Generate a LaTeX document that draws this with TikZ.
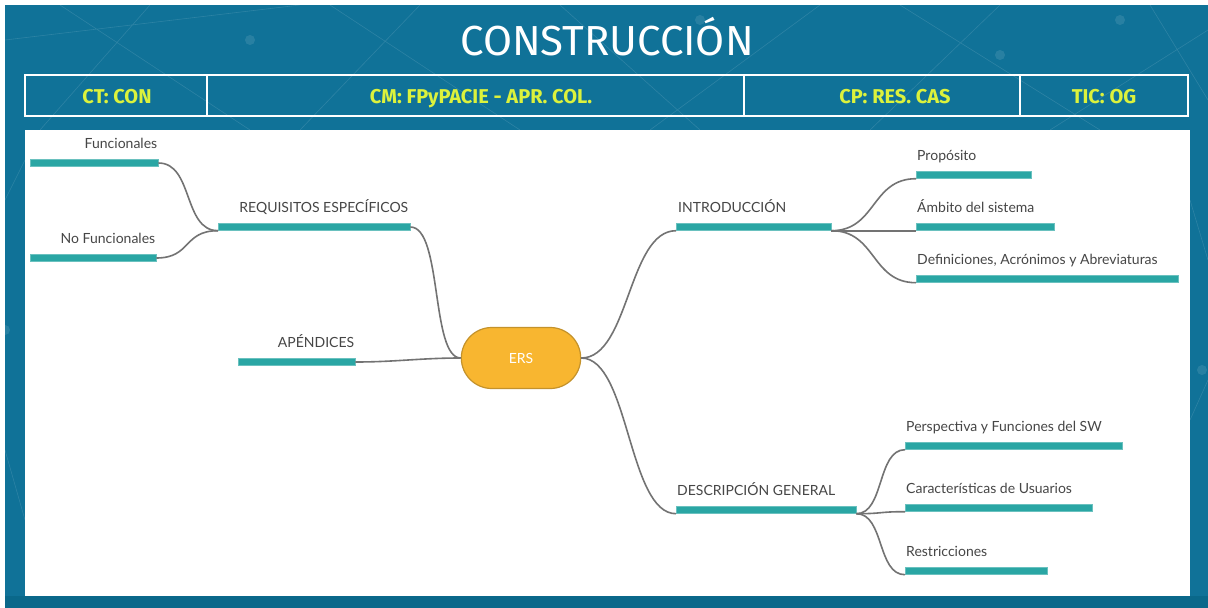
\documentclass[tikz,border=0pt]{standalone}
\usepackage{fontspec}
\setmainfont{Lato}
\newfontfamily\headfont{Fira Sans}
\usetikzlibrary{shapes.misc}
\definecolor{bgblue}{RGB}{16,114,152}
\definecolor{bgdark}{RGB}{10,104,138}
\definecolor{teal}{RGB}{42,166,164}
\definecolor{lime}{RGB}{220,242,60}
\definecolor{conncol}{RGB}{115,115,115}
\definecolor{txt}{RGB}{70,70,70}
\definecolor{ersfill}{RGB}{248,182,48}
\definecolor{ersline}{RGB}{196,146,43}
\tikzset{
  bar/.style={rectangle, fill=teal, draw=teal!70!white, line width=0.4pt, minimum height=7pt, inner sep=0pt, anchor=west},
  lbl/.style={text=txt, font=\fontsize{14}{16}\selectfont, inner sep=0pt},
  conn/.style={draw=conncol, line width=1.6pt},
  headtxt/.style={text=lime, font=\headfont\bfseries\fontsize{20}{22}\selectfont, inner sep=0pt, anchor=base},
  netline/.style={draw=white, opacity=0.12, line width=0.6pt}
}
\begin{document}
\begin{tikzpicture}[x=1pt,y=-1pt]
\useasboundingbox (0,0) rectangle (1208,608);
\fill[white] (0,0) rectangle (1208,608);
\fill[bgblue] (5,5) rectangle (1208,608);
\fill[bgdark] (5,596) rectangle (1208,608);
% faint network texture
\draw[netline] (5,40) -- (300,5) (60,5) -- (250,130) (150,5) -- (40,130) (330,5) -- (520,130)
  (420,5) -- (300,130) (560,5) -- (700,130) (820,5) -- (650,130) (900,5) -- (1100,130)
  (1000,5) -- (870,130) (1150,5) -- (1208,100) (1208,30) -- (1050,130)
  (5,200) -- (25,160) (5,450) -- (25,520) (1190,200) -- (1208,260) (1190,420) -- (1208,380);
\foreach \p in {(250,40),(700,20),(1000,55),(1120,20),(5,330),(1202,370)}
  \fill[white, opacity=0.1] \p circle (5);
% title
\node[text=white, font=\headfont\fontsize{42}{44}\selectfont, inner sep=0pt, anchor=base] (title) at (607,55) {CONSTRUCCIÓN};
% header table
\draw[white, line width=1.6pt] (25,75) rectangle (1188,116);
\draw[white, line width=1.6pt] (207,75) -- (207,116) (744,75) -- (744,116) (1020,75) -- (1020,116);
\node[headtxt] (ct) at (117,103) {CT: CON};
\node[headtxt] (cm) at (481,103) {CM: FPyPACIE - APR. COL.};
\node[headtxt] (cp) at (895,103) {CP: RES. CAS};
\node[headtxt] (tic) at (1104,103) {TIC: OG};
% white panel
\fill[white] (25,130) rectangle (1190,596);
% central node
\node[rounded rectangle, fill=ersfill, draw=ersline, line width=1.2pt, minimum width=126pt, minimum height=61pt, text=white, font=\fontsize{14}{16}\selectfont] (ers) at (521,358) {ERS};
% bars
\node[bar, minimum width=128pt] (fun) at (30,163) {};
\node[bar, minimum width=126pt] (nofun) at (30,258) {};
\node[bar, minimum width=192pt] (req) at (218,227) {};
\node[bar, minimum width=117pt] (app) at (238,362) {};
\node[bar, minimum width=155pt] (intro) at (676,227) {};
\node[bar, minimum width=115pt] (prop) at (916,175) {};
\node[bar, minimum width=138pt] (amb) at (916,227) {};
\node[bar, minimum width=262pt] (defs) at (916,279) {};
\node[bar, minimum width=180pt] (desc) at (676,510) {};
\node[bar, minimum width=217pt] (persp) at (905,446) {};
\node[bar, minimum width=187pt] (carac) at (905,508) {};
\node[bar, minimum width=142pt] (restr) at (905,571) {};
% labels
\node[lbl, anchor=base east] (funL) at ([xshift=-1pt,yshift=11pt]fun.north east) {Funcionales};
\node[lbl, anchor=base east] (nofunL) at ([xshift=-1pt,yshift=11pt]nofun.north east) {No Funcionales};
\node[lbl, anchor=base east] (reqL) at ([xshift=-2pt,yshift=11pt]req.north east) {REQUISITOS ESPECÍFICOS};
\node[lbl, anchor=base east] (appL) at ([xshift=-1pt,yshift=11pt]app.north east) {APÉNDICES};
\node[lbl, anchor=base west] (introL) at ([xshift=2pt,yshift=11pt]intro.north west) {INTRODUCCIÓN};
\node[lbl, anchor=base west] (propL) at ([xshift=1pt,yshift=11pt]prop.north west) {Propósito};
\node[lbl, anchor=base west] (ambL) at ([xshift=1pt,yshift=11pt]amb.north west) {Ámbito del sistema};
\node[lbl, anchor=base west] (defsL) at ([xshift=1pt,yshift=11pt]defs.north west) {Definiciones, Acrónimos y Abreviaturas};
\node[lbl, anchor=base west] (descL) at ([xshift=1pt,yshift=11pt]desc.north west) {DESCRIPCIÓN GENERAL};
\node[lbl, anchor=base west] (perspL) at ([xshift=1pt,yshift=11pt]persp.north west) {Perspectiva y Funciones del SW};
\node[lbl, anchor=base west] (caracL) at ([xshift=1pt,yshift=11pt]carac.north west) {Características de Usuarios};
\node[lbl, anchor=base west] (restrL) at ([xshift=1pt,yshift=11pt]restr.north west) {Restricciones};
% connectors
\draw[conn] (fun.east) .. controls +(35,0) and +(-35,0) .. (req.south west);
\draw[conn] (nofun.east) .. controls +(35,0) and +(-35,0) .. (req.south west);
\draw[conn] (req.east) .. controls +(32,0) and +(-30,0) .. (ers.west);
\draw[conn] (app.east) .. controls +(40,0) and +(-40,0) .. (ers.west);
\draw[conn] (ers.east) .. controls +(48,0) and +(-48,0) .. (intro.south west);
\draw[conn] (ers.east) .. controls +(48,0) and +(-48,0) .. (desc.south west);
\draw[conn] (intro.south east) .. controls +(45,0) and +(-45,0) .. (prop.south west);
\draw[conn] (intro.south east) .. controls +(45,0) and +(-45,0) .. (amb.south west);
\draw[conn] (intro.south east) .. controls +(45,0) and +(-45,0) .. (defs.south west);
\draw[conn] (desc.south east) .. controls +(28,0) and +(-28,0) .. (persp.south west);
\draw[conn] (desc.south east) .. controls +(28,0) and +(-28,0) .. (carac.south west);
\draw[conn] (desc.south east) .. controls +(28,0) and +(-28,0) .. (restr.south west);
\end{tikzpicture}
\end{document}
